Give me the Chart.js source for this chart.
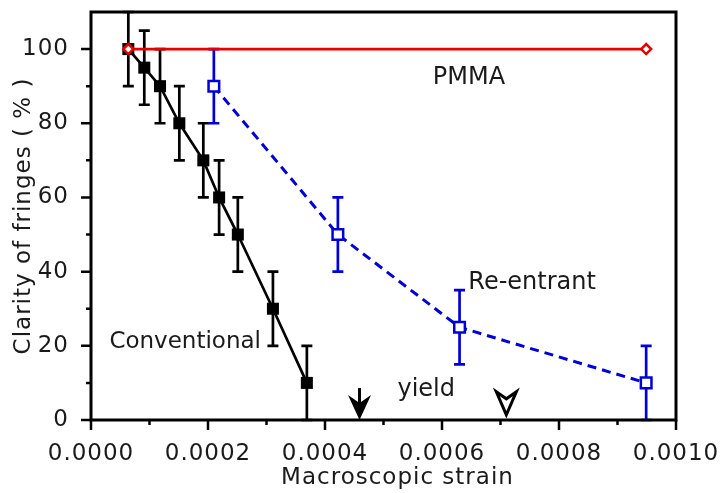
<!DOCTYPE html>
<html>
<head>
<meta charset="utf-8">
<script src="https://cdn.jsdelivr.net/npm/chart.js@4/dist/chart.umd.min.js"></script>
<style>
  html, body { margin: 0; padding: 0; background: #fff; }
  #wrap { width: 724px; height: 493px; }
</style>
</head>
<body>
<div id="wrap"><canvas id="c" width="724" height="493"></canvas></div>
<script>
const FONT = 'DejaVu Sans'
const INK = '#1a1a1a'
const BLUE = '#0000dd'
const RED = '#e80000'

// data
const convX = [0.0000638, 0.0000911, 0.000118, 0.000151, 0.000192, 0.000219, 0.000251, 0.000311, 0.000369]
const convY = [100, 95, 90, 80, 70, 60, 50, 30, 10]
const convErr = [10, 10, 10, 10, 10, 10, 10, 10, 10]
const reX = [0.000210, 0.000422, 0.000630, 0.000949]
const reY = [90, 50, 25, 10]
const reErr = [10, 10, 10, 10]
const pmmaX = [0.0000638, 0.000949]
const pmmaY = [100, 100]

// text notes and yield marks, in data coordinates
const notes = [
  { text: 'PMMA', x: 0.000646, y: 92.4, size: 24 },
  { text: 'Re-entrant', x: 0.000754, y: 37, size: 24 },
  { text: 'Conventional', x: 0.000161, y: 21, size: 23 },
  { text: 'yield', x: 0.000573, y: 8.1, size: 24 },
]
const xTitle = 'Macroscopic strain'
const yieldConv = { x: 0.000459, top: 8.6 }
const yieldRe = { x: 0.000710, top: 7.6, tip: 1.4 }

const pts = (xs, ys) => xs.map((v, i) => ({ x: v, y: ys[i] }))
const noPad = s => { s.paddingTop = 0; s.paddingBottom = 0; s.paddingLeft = 0; s.paddingRight = 0 }

const extras = {
  id: 'extras',
  beforeDraw(chart) {
    // axis text in the picture is a little more spread out than DejaVu
    chart.ctx.letterSpacing = '1px'
  },
  beforeDatasetsDraw(chart) {
    const { ctx, scales: { x, y } } = chart
    ctx.save()
    ;[[convX, convY, convErr, '#000'], [reX, reY, reErr, BLUE]].forEach(([xs, ys, es, c]) => {
      ctx.strokeStyle = c
      ctx.lineWidth = 2.7
      xs.forEach((v, i) => {
        const px = x.getPixelForValue(v)
        const lo = y.getPixelForValue(ys[i] - es[i])
        const hi = y.getPixelForValue(ys[i] + es[i])
        ctx.beginPath()
        ctx.moveTo(px, lo); ctx.lineTo(px, hi)
        ctx.moveTo(px - 5.5, lo); ctx.lineTo(px + 5.5, lo)
        ctx.moveTo(px - 5.5, hi); ctx.lineTo(px + 5.5, hi)
        ctx.stroke()
      })
    })
    ctx.restore()
  },
  afterDraw(chart) {
    const { ctx, chartArea: a, scales: { x, y } } = chart
    ctx.save()
    // x title, a bit right of the axis centre as in the picture
    ctx.fillStyle = INK
    ctx.font = `23px "${FONT}"`
    ctx.textAlign = 'center'
    ctx.textBaseline = 'middle'
    ctx.fillText(xTitle, (a.left + a.right) / 2 + 14, 478)
    ctx.letterSpacing = '0px'
    // frame
    ctx.strokeStyle = '#000'
    ctx.lineWidth = 3
    ctx.strokeRect(a.left, a.top, a.right - a.left, a.bottom - a.top)
    // ticks
    ctx.lineWidth = 2.5
    ctx.beginPath()
    const xt = x.ticks.map(t => t.value)
    xt.forEach((v, i) => {
      const px = x.getPixelForValue(v)
      ctx.moveTo(px, a.bottom); ctx.lineTo(px, a.bottom + 10)
      if (i < xt.length - 1) {
        const pm = x.getPixelForValue((v + xt[i + 1]) / 2)
        ctx.moveTo(pm, a.bottom); ctx.lineTo(pm, a.bottom + 5)
      }
    })
    const yt = y.ticks.map(t => t.value)
    yt.forEach((v, i) => {
      const py = y.getPixelForValue(v)
      ctx.moveTo(a.left, py); ctx.lineTo(a.left - 10, py)
      if (i < yt.length - 1) {
        const pm = y.getPixelForValue((v + yt[i + 1]) / 2)
        ctx.moveTo(a.left, pm); ctx.lineTo(a.left - 5, pm)
      }
    })
    ctx.stroke()
    // notes
    notes.forEach(n => {
      ctx.font = `${n.size}px "${FONT}"`
      ctx.fillText(n.text, x.getPixelForValue(n.x), y.getPixelForValue(n.y))
    })
    // filled yield arrow
    let px = x.getPixelForValue(yieldConv.x)
    const tip = y.getPixelForValue(0)
    const top = y.getPixelForValue(yieldConv.top)
    ctx.strokeStyle = '#000'
    ctx.lineWidth = 3
    ctx.beginPath(); ctx.moveTo(px, top); ctx.lineTo(px, tip - 10); ctx.stroke()
    ctx.fillStyle = '#000'
    ctx.beginPath()
    ctx.moveTo(px, tip)
    ctx.lineTo(px - 11.5, tip - 25)
    ctx.lineTo(px, tip - 17)
    ctx.lineTo(px + 11.5, tip - 25)
    ctx.closePath()
    ctx.fill()
    // open yield arrowhead
    px = x.getPixelForValue(yieldRe.x)
    const t2 = y.getPixelForValue(yieldRe.tip)
    const h2 = y.getPixelForValue(yieldRe.top)
    ctx.lineWidth = 3
    ctx.lineJoin = 'miter'
    ctx.beginPath()
    ctx.moveTo(px, t2)
    ctx.lineTo(px - 10, h2)
    ctx.lineTo(px, h2 + 7)
    ctx.lineTo(px + 10, h2)
    ctx.closePath()
    ctx.stroke()
    ctx.restore()
  },
}

new Chart(document.getElementById('c'), {
  type: 'scatter',
  data: {
    datasets: [
      { label: 'PMMA', data: pts(pmmaX, pmmaY), showLine: true, borderColor: RED, borderWidth: 2.7,
        pointStyle: 'rectRot', pointRadius: 5, pointBorderWidth: 2.5, pointBackgroundColor: '#fff', pointBorderColor: RED },
      { label: 'Re-entrant', data: pts(reX, reY), showLine: true, borderColor: BLUE, borderWidth: 3, borderDash: [9, 6],
        pointStyle: 'rect', pointRadius: 7.5, pointBorderWidth: 2.5, pointBackgroundColor: '#fff', pointBorderColor: BLUE },
      { label: 'Conventional', data: pts(convX, convY), showLine: true, borderColor: '#000', borderWidth: 2.7,
        pointStyle: 'rect', pointRadius: 8.5, pointBorderWidth: 0, pointBackgroundColor: '#000' },
    ],
  },
  options: {
    responsive: false, animation: false,
    layout: { padding: { top: 12, right: 48, left: 0, bottom: 0 } },
    plugins: { legend: { display: false }, tooltip: { enabled: false } },
    scales: {
      x: {
        type: 'linear', min: 0, max: 0.001,
        afterFit: s => { s.height = 73; noPad(s) },
        grid: { display: false, drawTicks: false }, border: { display: false },
        ticks: { stepSize: 0.0002, padding: 20, color: INK, font: { family: FONT, size: 23 }, maxRotation: 0,
          callback: v => v.toFixed(4) },
      },
      y: {
        type: 'linear', min: 0, max: 110,
        afterFit: s => { s.width = 91; noPad(s) },
        grid: { display: false, drawTicks: false }, border: { display: false },
        ticks: { stepSize: 20, padding: 22, color: INK, font: { family: FONT, size: 23 },
          callback: v => (v <= 100 ? v : '') },
        afterBuildTicks: s => { s.ticks = s.ticks.filter(t => t.value <= 100) },
        title: { display: true, text: 'Clarity of fringes ( % )', color: INK, font: { family: FONT, size: 23 }, padding: { top: 10 } },
      },
    },
  },
  plugins: [extras],
})
</script>
</body>
</html>
